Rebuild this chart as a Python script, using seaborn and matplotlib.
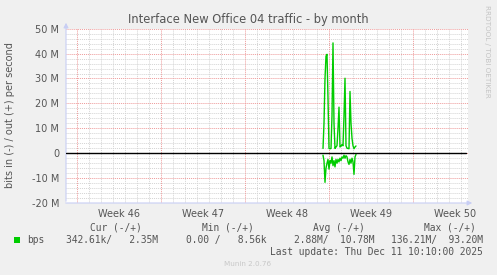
import matplotlib
matplotlib.use("Agg")
import matplotlib.pyplot as plt
import numpy as np
import pandas as pd
import seaborn as sns

# ---------------- data ----------------
title = "Interface New Office 04 traffic - by month"
ylabel = "bits in (-) / out (+) per second"
week_labels = ["Week 46", "Week 47", "Week 48", "Week 49", "Week 50"]
week_starts = ["2025-11-10", "2025-11-17", "2025-11-24", "2025-12-01", "2025-12-08"]
series_start = "2025-11-30 12:00"
step = "2h"
# out (+) traffic, Mbit/s
out_mbps = [1.9, 12, 30, 39, 39.7, 22, 1.9, 1.8, 1.9, 15, 44.3, 12, 1.9, 2.5,
            3, 10, 18.5, 2.5, 2.8, 3.5, 3, 15, 30.1, 3, 2, 1.9, 1.8, 24.8,
            12, 6, 3, 1.8, 2.5, 2.9]
# in (-) traffic, Mbit/s (drawn below zero)
in_mbps = [0.8, 3, 11.7, 6, 4, 2.5, 6.4, 3, 4, 1.5, 5, 3, 5.5, 2.5, 4, 2.5,
           3.5, 2, 3, 1.5, 2, 0.8, 2, 1, 1.5, 3.5, 4.5, 2.5, 4, 2, 3.5, 8.5,
           1.5, 0.5]
y_ticks = [-20, -10, 0, 10, 20, 30, 40, 50]
legend_headers = ["Cur (-/+)", "Min (-/+)", "Avg (-/+)", "Max (-/+)"]
legend_values = ["342.61k/   2.35M", "0.00 /   8.56k", "2.88M/  10.78M", "136.21M/  93.20M"]
legend_name = "bps"
last_update = "Last update: Thu Dec 11 10:10:00 2025"
footer = "Munin 2.0.76"
side_text = "RRDTOOL / TOBI OETIKER"

# ---------------- figure ----------------
W, H = 497, 275
sns.set_style("white")
plt.rcParams["font.family"] = ["DejaVu Sans"]
BG = "#F0F0F0"
TXT = "#555555"
GREEN = "#00CC00"

fig = plt.figure(figsize=(W / 100, H / 100), dpi=100, facecolor=BG)

def fx(x):
    return x / W

def fy(y):
    return 1 - y / H

ax = fig.add_axes([fx(66), fy(203), (468 - 66) / W, (203 - 28.7) / H])
ax.set_facecolor("white")
ax.grid(False)

t0 = pd.Timestamp(week_starts[0])
xmin = t0 - pd.Timedelta(hours=22)
xmax = t0 + pd.Timedelta(days=391 / 12)
ax.set_xlim(xmin, xmax)
ax.set_ylim(-20, 50)

# grid: minor (daily / 2M) grey dotted, major (weekly / 10M) red dotted
week_ts = [pd.Timestamp(w) for w in week_starts]
days = pd.date_range(xmin.ceil("D"), xmax, freq="D")
for d in days:
    if d in week_ts:
        continue
    ax.axvline(d, color="#D4D4D4", lw=0.7, ls=(0, (1, 1)), zorder=0.5)
for v in np.arange(-20, 51, 2):
    if v % 10 == 0:
        continue
    ax.axhline(v, color="#D4D4D4", lw=0.7, ls=(0, (1, 1)), zorder=0.5)
for w in week_ts:
    ax.axvline(w, color="#EE9A9A", lw=0.7, ls=(0, (1, 1)), zorder=0.6)
for v in y_ticks:
    ax.axhline(v, color="#EE9A9A", lw=0.7, ls=(0, (1, 1)), zorder=0.6)

times = pd.date_range(series_start, periods=len(out_mbps), freq=step)
df = pd.DataFrame({"time": times, "out": out_mbps, "in": [-v for v in in_mbps]})
sns.lineplot(data=df, x="time", y="out", color=GREEN, lw=1.0, ax=ax, legend=False, zorder=3)
sns.lineplot(data=df, x="time", y="in", color=GREEN, lw=1.0, ax=ax, legend=False, zorder=3)

ax.axhline(0, color="black", lw=1.0, zorder=4, xmax=0.995)

# axes styling
for s in ["top", "right", "left", "bottom"]:
    ax.spines[s].set_visible(False)
axis_col = "#C8CEF4"
ax.annotate("", xy=(fx(66), fy(20)), xytext=(fx(66), fy(204)), xycoords="figure fraction",
            arrowprops=dict(arrowstyle="-|>", color=axis_col, lw=0.8, mutation_scale=7))
ax.annotate("", xy=(fx(475), fy(203)), xytext=(fx(63), fy(203)), xycoords="figure fraction",
            arrowprops=dict(arrowstyle="-|>", color=axis_col, lw=0.8, mutation_scale=7))

ax.set_yticks(y_ticks)
ax.set_yticklabels(["0" if v == 0 else f"{v} M" for v in y_ticks], color=TXT, fontsize=7)
ax.tick_params(axis="y", length=0, pad=5)

mids = [w + pd.Timedelta(hours=84) for w in week_ts]
ax.set_xticks(week_ts)
ax.set_xticklabels([""] * len(week_ts))
ax.tick_params(axis="x", which="major", length=2.5, color="#E88080", direction="inout")
ax.set_xticks(mids, minor=True)
ax.set_xticklabels(week_labels, minor=True, color=TXT, fontsize=7)
ax.tick_params(axis="x", which="minor", length=0, pad=4)
ax.set_xlabel("")
ax.set_ylabel("")

# texts
fig.text(fx(248), fy(19), title, ha="center", va="center", color=TXT, fontsize=8.3)
fig.text(fx(10), fy(115), ylabel, ha="center", va="center", rotation=90, color=TXT, fontsize=7)
fig.text(fx(487), fy(5), side_text, ha="center", va="top", rotation=270, color="#C4C4C4", fontsize=5.2)

mono = "DejaVu Sans Mono"
MS = 6.9
hdr_right = [142, 254, 365, 476]
val_right = [158, 267, 375, 483]
for h, xr in zip(legend_headers, hdr_right):
    fig.text(fx(xr), fy(228), h, ha="right", va="center", family=mono, color=TXT, fontsize=MS)
for v, xr in zip(legend_values, val_right):
    fig.text(fx(xr), fy(240), v, ha="right", va="center", family=mono, color=TXT, fontsize=MS)
fig.patches.append(plt.Rectangle((fx(14), fy(243)), 6 / W, 6 / H, transform=fig.transFigure,
                                 facecolor=GREEN, edgecolor="none"))
fig.text(fx(27), fy(240), legend_name, ha="left", va="center", family=mono, color=TXT, fontsize=MS)
fig.text(fx(483), fy(252), last_update, ha="right", va="center", family=mono, color=TXT, fontsize=MS)
fig.text(fx(248), fy(264), footer, ha="center", va="center", color="#C8C8C8", fontsize=5.2)

fig.savefig("out.png", dpi=100, facecolor=BG)
